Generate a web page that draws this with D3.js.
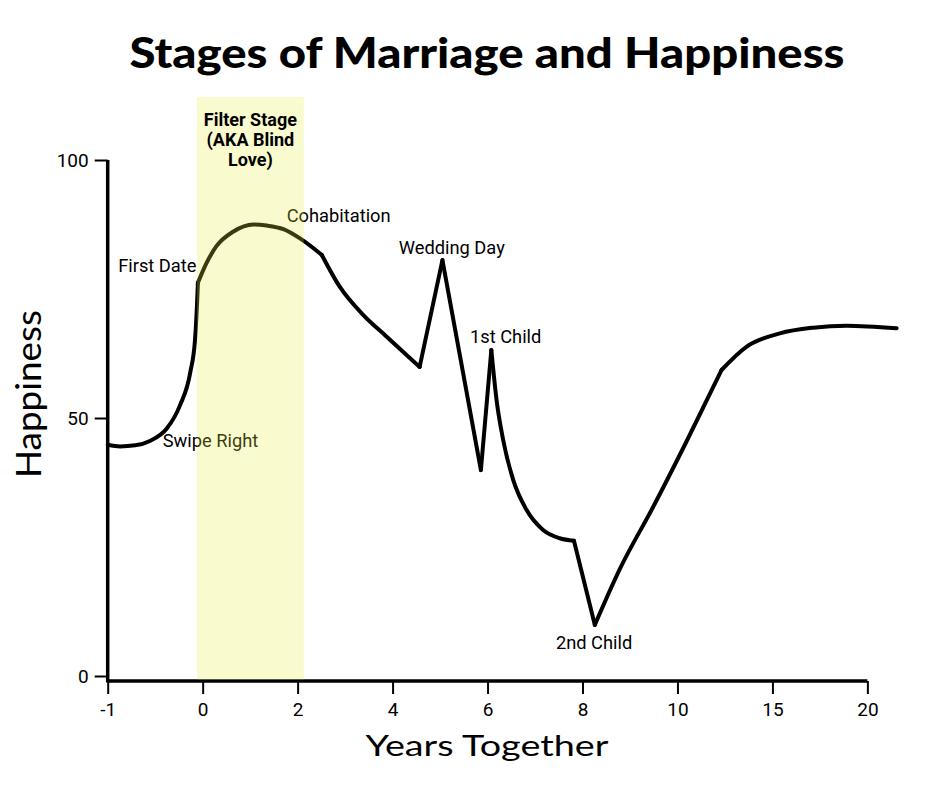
<!DOCTYPE html>
<html lang="en">
<head>
    <meta charset="UTF-8">
    <title>Stages of Marriage and Happiness</title>
    <script src="https://cdnjs.cloudflare.com/ajax/libs/d3/7.8.5/d3.min.js"></script>
    <style>
        body { margin: 0; background: #fff; }
        .tick text { font: 19px Roboto, sans-serif; fill: #000; }
        .note { font: 18.3px Roboto, sans-serif; fill: #000; }
        .band-label { font: bold 18px Roboto, sans-serif; text-anchor: middle; }
    </style>
</head>
<body>
<script>
    // curve: years together vs happiness
    var years = [-1, -0.87, -0.71, -0.55, -0.38, -0.24, -0.13, -0.08, -0.06, -0.05,
        0.08, 0.29, 0.64, 1.07, 1.35, 1.70, 2.05, 2.51, 2.89, 3.38, 3.87, 4.57,
        5.05, 5.86, 6.08, 6.19, 6.33, 6.54, 6.82, 7.17, 7.52, 7.82, 8.26,
        8.79, 9.49, 10.47, 12.32, 13.63, 15.39, 17.14, 18.90, 21.54];
    var happiness = [44.8, 44.5, 44.7, 45.6, 47.9, 52.4, 58.9, 65.3, 71.8, 76.2,
        80.0, 83.3, 86.1, 87.5, 87.3, 86.6, 84.8, 81.6, 75.4, 70.0, 65.8, 59.9,
        80.6, 39.9, 63.2, 53.5, 45.7, 38.0, 32.2, 28.3, 26.7, 26.2, 9.9,
        20.8, 32.8, 45.4, 59.3, 63.8, 66.4, 67.5, 67.9, 67.4];
    // years where the curve turns a sharp corner
    var corners = [-0.05, 2.51, 4.57, 5.05, 5.86, 6.08, 7.82, 8.26, 12.32];

    // axis ticks (the x axis is evenly spaced, not linear)
    var xTicks = [-1, 0, 2, 4, 6, 8, 10, 15, 20];
    var yTicks = [0, 50, 100];

    // annotations: label and where it sits (data units, left edge / baseline)
    var noteLabels = ["First Date", "Swipe Right", "Cohabitation", "Wedding Day", "1st Child", "2nd Child"];
    var noteYears = [-0.89, -0.42, 1.77, 4.13, 5.63, 7.44];
    var noteHappiness = [78.3, 44.4, 88.0, 81.8, 64.5, 5.2];

    // the filter stage band
    var bandLines = ["Filter Stage", "(AKA Blind", "Love)"];
    var bandYears = [-0.06, 2.13];
    var bandTop = 112.2;

    var width = 940, height = 788;

    var svg = d3.select("body").append("svg")
        .attr("width", width)
        .attr("height", height);

    var xRange = xTicks.map(function(d, i) { return 107.7 + i * 94.96; });
    var x = d3.scaleLinear().domain(xTicks).range(xRange);
    var y = d3.scaleLinear().domain([0, 100]).range([676, 160]);
    var xAxisY = y(0) + 5;

    // title
    svg.append("text")
        .attr("x", 487)
        .attr("y", 68)
        .attr("text-anchor", "middle")
        .attr("textLength", 715)
        .attr("lengthAdjust", "spacingAndGlyphs")
        .style("font", "900 42px Lato, sans-serif")
        .text("Stages of Marriage and Happiness");

    // axes
    var xAxis = svg.append("g")
        .attr("transform", "translate(0," + xAxisY + ")")
        .call(d3.axisBottom(x).tickValues(xTicks).tickFormat(d3.format("d"))
            .tickSize(13).tickPadding(9).tickSizeOuter(0));
    xAxis.select(".domain").attr("stroke-width", 3.5)
        .attr("d", "M" + x(-1) + ",0H" + x(20));
    xAxis.selectAll(".tick line").attr("stroke-width", 2);
    xAxis.selectAll(".tick text").text(function(d) { return d < 0 ? "-" + Math.abs(d) : d; });

    var yAxis = svg.append("g")
        .attr("transform", "translate(" + x(-1) + ",0)")
        .call(d3.axisLeft(y).tickValues(yTicks).tickSize(13).tickPadding(6).tickSizeOuter(0));
    yAxis.select(".domain").attr("stroke-width", 3.5)
        .attr("d", "M0," + y(100) + "V" + (xAxisY + 1.5));
    yAxis.selectAll(".tick line").attr("stroke-width", 2);

    // axis titles
    svg.append("text")
        .attr("x", 487)
        .attr("y", 756)
        .attr("text-anchor", "middle")
        .attr("textLength", 243)
        .attr("lengthAdjust", "spacingAndGlyphs")
        .style("font", "28px Lato, sans-serif")
        .text("Years Together");

    svg.append("text")
        .attr("transform", "translate(41,394) rotate(-90)")
        .attr("text-anchor", "middle")
        .attr("textLength", 168)
        .attr("lengthAdjust", "spacingAndGlyphs")
        .style("font", "34px Lato, sans-serif")
        .text("Happiness");

    // the happiness line: smooth pieces joined at the corners
    var points = years.map(function(d, i) { return [d, happiness[i]]; });
    var pieces = [], cur = [];
    points.forEach(function(p) {
        cur.push(p);
        if (corners.indexOf(p[0]) >= 0) {
            pieces.push(cur);
            cur = [p];
        }
    });
    pieces.push(cur);

    var line = d3.line()
        .x(function(d) { return x(d[0]); })
        .y(function(d) { return y(d[1]); })
        .curve(d3.curveMonotoneX);

    svg.selectAll(".piece")
        .data(pieces)
        .enter().append("path")
        .attr("class", "piece")
        .attr("d", line)
        .attr("fill", "none")
        .attr("stroke", "#000")
        .attr("stroke-width", 4)
        .attr("stroke-linecap", "round")
        .attr("stroke-linejoin", "round");

    // annotations
    svg.selectAll(".note")
        .data(noteLabels)
        .enter().append("text")
        .attr("class", "note")
        .attr("x", function(d, i) { return x(noteYears[i]); })
        .attr("y", function(d, i) { return y(noteHappiness[i]); })
        .text(function(d) { return d; });

    // filter stage band, drawn over the line
    svg.append("rect")
        .attr("x", x(bandYears[0]))
        .attr("y", y(bandTop))
        .attr("width", x(bandYears[1]) - x(bandYears[0]))
        .attr("height", xAxisY - 1.5 - y(bandTop))
        .attr("fill", "rgb(232,238,60)")
        .attr("fill-opacity", 0.25);

    svg.selectAll(".band-label")
        .data(bandLines)
        .enter().append("text")
        .attr("class", "band-label")
        .attr("x", (x(bandYears[0]) + x(bandYears[1])) / 2)
        .attr("y", function(d, i) { return 126 + i * 20; })
        .text(function(d) { return d; });
</script>
</body>
</html>
